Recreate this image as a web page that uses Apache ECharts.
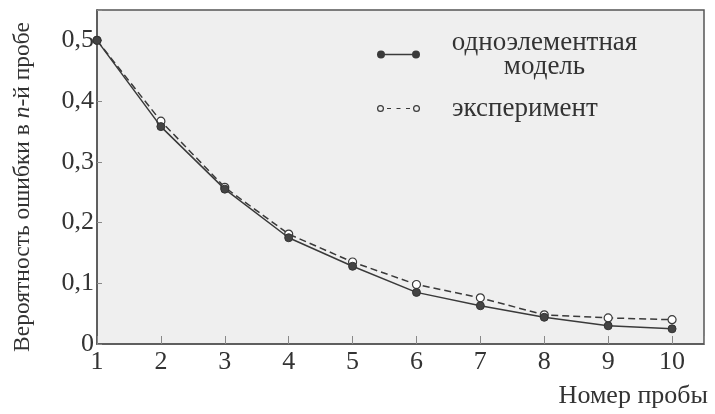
<!DOCTYPE html>
<html>
<head>
<meta charset="utf-8">
<script src="https://cdn.jsdelivr.net/npm/echarts@6/dist/echarts.min.js"></script>
<style>html,body{margin:0;padding:0;background:#fff}#c{width:715px;height:414px}</style>
</head>
<body>
<div id="c"></div>
<script>
const trials = [1, 2, 3, 4, 5, 6, 7, 8, 9, 10];
const modelValues = [0.5, 0.358, 0.255, 0.175, 0.128, 0.085, 0.063, 0.044, 0.030, 0.025];
const experimentValues = [0.5, 0.367, 0.258, 0.181, 0.135, 0.098, 0.076, 0.048, 0.043, 0.040];
const yTicks = [0, 0.1, 0.2, 0.3, 0.4, 0.5];
const modelName = 'одноэлементная модель';
const experimentName = 'эксперимент';

const FONT = '"Liberation Serif", "DejaVu Serif", serif';
const dark = '#3a3a3a';

const modelIcon = 'path://M0,4A4,4,0,1,1,8,4A4,4,0,1,1,0,4Z M35,4A4,4,0,1,1,43,4A4,4,0,1,1,35,4Z M4,3.2L39,3.2L39,4.8L4,4.8Z';
const expIcon = 'path://M0,3.5A3.5,3.5,0,1,1,7,3.5A3.5,3.5,0,1,1,0,3.5Z M1.2,3.5A2.3,2.3,0,1,0,5.8,3.5A2.3,2.3,0,1,0,1.2,3.5Z ' +
  'M36,3.5A3.5,3.5,0,1,1,43,3.5A3.5,3.5,0,1,1,36,3.5Z M37.2,3.5A2.3,2.3,0,1,0,41.8,3.5A2.3,2.3,0,1,0,37.2,3.5Z ' +
  'M10,2.9L14,2.9L14,4.1L10,4.1Z M19.5,2.9L23.5,2.9L23.5,4.1L19.5,4.1Z M29,2.9L33,2.9L33,4.1L29,4.1Z';

const chart = echarts.init(document.getElementById('c'), null, {renderer: 'canvas'});
chart.setOption({
  animation: false,
  backgroundColor: '#ffffff',
  grid: {
    left: 97, top: 10, right: 11, bottom: 70,
    show: true, backgroundColor: '#efefef', borderColor: '#555', borderWidth: 1.5
  },
  legend: [
    {
      data: [{ name: modelName, icon: modelIcon, itemStyle: { color: dark, borderWidth: 0 } }],
      orient: 'vertical', left: 377, top: 29, padding: 0,
      itemWidth: 43, itemHeight: 8,
      formatter: () => '{a|одноэлементная}\n{a|модель}',
      textStyle: {
        fontFamily: FONT, fontSize: 27, color: '#333', padding: [0, 0, 0, 27],
        rich: { a: { fontFamily: FONT, fontSize: 27, color: '#333', width: 185, align: 'center', lineHeight: 24 } }
      }
    },
    {
      data: [{ name: experimentName, icon: expIcon, itemStyle: { color: dark, borderWidth: 0 } }],
      orient: 'vertical', left: 377, top: 95, padding: 0,
      itemWidth: 43, itemHeight: 7,
      textStyle: { fontFamily: FONT, fontSize: 27, color: '#333', padding: [0, 0, 0, 27] }
    }
  ],
  xAxis: {
    type: 'value', min: 1, max: 10.5, interval: 1,
    axisLine: { show: true, lineStyle: { color: '#555', width: 1.5 } },
    axisTick: { show: true, inside: true, length: 8, lineStyle: { color: '#888' } },
    splitLine: { show: false },
    axisLabel: {
      fontFamily: FONT, fontSize: 26, color: '#333', margin: 5,
      formatter: v => (trials.indexOf(v) >= 0 ? String(v) : '')
    }
  },
  yAxis: {
    type: 'value', min: 0, max: 0.55, interval: 0.1,
    axisLine: { show: true, lineStyle: { color: '#555', width: 1.5 } },
    axisTick: { show: true, inside: true, length: 5, lineStyle: { color: '#888' } },
    splitLine: { show: false },
    axisLabel: {
      fontFamily: FONT, fontSize: 26, color: '#333', margin: 3,
      formatter: v => {
        const t = yTicks.find(k => Math.abs(k - v) < 1e-9);
        if (t === undefined) return '';
        return t === 0 ? '0' : t.toFixed(1).replace('.', ',');
      }
    },
    name: '{r|Вероятность ошибки в }{i|n}{r|-й пробе}',
    nameLocation: 'middle', nameGap: 62, nameRotate: 90,
    nameTextStyle: {
      padding: [0, 20, 0, 0],
      rich: {
        r: { fontFamily: FONT, fontSize: 23.5, color: '#333' },
        i: { fontFamily: FONT, fontSize: 23.5, color: '#333', fontStyle: 'italic' }
      }
    }
  },
  graphic: [
    {
      type: 'text', right: 7, top: 383,
      style: { text: 'Номер пробы', font: '26px ' + FONT, fill: '#333' }
    }
  ],
  series: [
    {
      name: experimentName, type: 'line',
      data: trials.map((t, i) => [t, experimentValues[i]]),
      symbol: 'circle', symbolSize: 8,
      lineStyle: { color: dark, width: 1.5, type: [7, 4] },
      itemStyle: { color: '#ffffff', borderColor: dark, borderWidth: 1.2 },
      z: 2
    },
    {
      name: modelName, type: 'line',
      data: trials.map((t, i) => [t, modelValues[i]]),
      symbol: 'circle', symbolSize: 8,
      lineStyle: { color: dark, width: 1.5 },
      itemStyle: { color: '#444', borderColor: '#333', borderWidth: 1 },
      z: 3
    }
  ]
});
</script>
</body>
</html>
